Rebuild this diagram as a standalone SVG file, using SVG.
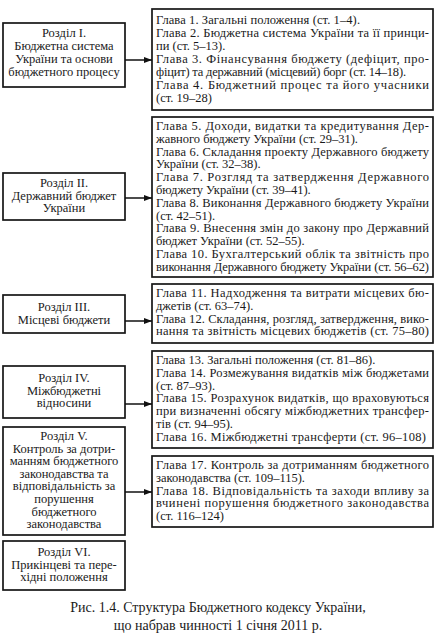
<svg xmlns="http://www.w3.org/2000/svg" width="437" height="638" viewBox="0 0 437 638">
<defs>
<marker id="ah" markerUnits="userSpaceOnUse" markerWidth="9" markerHeight="7" refX="8" refY="3.5" orient="auto">
<path d="M0,0.5 L8,3.5 L0,6.5 Z" fill="#111"/>
</marker>
</defs>
<style>
.box{fill:#fff;stroke:#161616;stroke-width:1.7}
.t{font-family:"Liberation Serif","Times New Roman",serif;font-size:12.5px;fill:#1a1a1a}
.l{font-family:"Liberation Serif","Times New Roman",serif;font-size:12.5px;fill:#1a1a1a;text-anchor:middle}
.cap{font-family:"Liberation Serif","Times New Roman",serif;font-size:14px;fill:#1a1a1a;text-anchor:middle}
.ar{stroke:#111;stroke-width:1.5;fill:none}
</style>
<rect x="0" y="0" width="437" height="638" fill="#fff"/>

<g id="s1">
<rect class="box" x="3" y="23" width="122" height="64"/>
<text class="l" x="64" y="36.5">Розділ I.</text>
<text class="l" x="64" y="49.5">Бюджетна система</text>
<text class="l" x="64" y="62.5">України та основи</text>
<text class="l" x="64" y="75.5">бюджетного процесу</text>
</g>
<g id="c1">
<rect class="box" x="152" y="9" width="281" height="101"/>
<text class="t" x="156" y="24" textLength="204" lengthAdjust="spacing">Глава 1. Загальні положення (ст. 1–4).</text>
<text class="t" x="156" y="37" textLength="273" lengthAdjust="spacing">Глава 2. Бюджетна система України та її принци-</text>
<text class="t" x="156" y="50">пи (ст. 5–13).</text>
<text class="t" x="156" y="63" textLength="273" lengthAdjust="spacing">Глава 3. Фінансування бюджету (дефіцит, про-</text>
<text class="t" x="156" y="76" textLength="250" lengthAdjust="spacing">фіцит) та державний (місцевий) борг (ст. 14–18).</text>
<text class="t" x="156" y="89" textLength="273" lengthAdjust="spacing">Глава 4. Бюджетний процес та його учасники</text>
<text class="t" x="156" y="102">(ст. 19–28)</text>
</g>

<g id="s2">
<rect class="box" x="3" y="173" width="122" height="47"/>
<text class="l" x="64" y="187">Розділ II.</text>
<text class="l" x="64" y="199.5">Державний бюджет</text>
<text class="l" x="64" y="212">України</text>
</g>
<g id="c2">
<rect class="box" x="152" y="117" width="281" height="160"/>
<text class="t" x="156" y="130" textLength="273" lengthAdjust="spacing">Глава 5. Доходи, видатки та кредитування Дер-</text>
<text class="t" x="156" y="142.8">жавного бюджету України (ст. 29–31).</text>
<text class="t" x="156" y="155.6" textLength="273" lengthAdjust="spacing">Глава 6. Складання проекту Державного бюджету</text>
<text class="t" x="156" y="168.4">України (ст. 32–38).</text>
<text class="t" x="156" y="181.2" textLength="273" lengthAdjust="spacing">Глава 7. Розгляд та затвердження Державного</text>
<text class="t" x="156" y="194">бюджету України (ст. 39–41).</text>
<text class="t" x="156" y="206.8" textLength="273" lengthAdjust="spacing">Глава 8. Виконання Державного бюджету України</text>
<text class="t" x="156" y="219.6">(ст. 42–51).</text>
<text class="t" x="156" y="232.4" textLength="273" lengthAdjust="spacing">Глава 9. Внесення змін до закону про Державний</text>
<text class="t" x="156" y="245.2">бюджет України (ст. 52–55).</text>
<text class="t" x="156" y="258" textLength="273" lengthAdjust="spacing">Глава 10. Бухгалтерський облік та звітність про</text>
<text class="t" x="156" y="270.8" textLength="273" lengthAdjust="spacing">виконання Державного бюджету України (ст. 56–62)</text>
</g>

<g id="s3">
<rect class="box" x="3" y="295" width="122" height="38"/>
<text class="l" x="64" y="311">Розділ III.</text>
<text class="l" x="64" y="324">Місцеві бюджети</text>
</g>
<g id="c3">
<rect class="box" x="152" y="284" width="281" height="59"/>
<text class="t" x="156" y="297" textLength="273" lengthAdjust="spacing">Глава 11. Надходження та витрати місцевих бю-</text>
<text class="t" x="156" y="309.8">джетів (ст. 63–74).</text>
<text class="t" x="156" y="322.6" textLength="273" lengthAdjust="spacing">Глава 12. Складання, розгляд, затвердження, вико-</text>
<text class="t" x="156" y="335.4" textLength="273" lengthAdjust="spacing">нання та звітність місцевих бюджетів (ст. 75–80)</text>
</g>

<g id="s4">
<rect class="box" x="3" y="366" width="122" height="52"/>
<text class="l" x="64" y="382">Розділ IV.</text>
<text class="l" x="64" y="394.5">Міжбюджетні</text>
<text class="l" x="64" y="407">відносини</text>
</g>
<g id="c4">
<rect class="box" x="152" y="351" width="281" height="97"/>
<text class="t" x="156" y="364">Глава 13. Загальні положення (ст. 81–86).</text>
<text class="t" x="156" y="376.8" textLength="273" lengthAdjust="spacing">Глава 14. Розмежування видатків між бюджетами</text>
<text class="t" x="156" y="389.6">(ст. 87–93).</text>
<text class="t" x="156" y="402.4" textLength="273" lengthAdjust="spacing">Глава 15. Розрахунок видатків, що враховуються</text>
<text class="t" x="156" y="415.2" textLength="273" lengthAdjust="spacing">при визначенні обсягу міжбюджетних трансфер-</text>
<text class="t" x="156" y="428">тів (ст. 94–95).</text>
<text class="t" x="156" y="440.8" textLength="270" lengthAdjust="spacing">Глава 16. Міжбюджетні трансферти (ст. 96–108)</text>
</g>

<g id="s5">
<rect class="box" x="3" y="427" width="122" height="108"/>
<text class="l" x="64" y="440">Розділ V.</text>
<text class="l" x="64" y="452.6">Контроль за дотри-</text>
<text class="l" x="64" y="465.2">манням бюджетного</text>
<text class="l" x="64" y="477.8">законодавства та</text>
<text class="l" x="64" y="490.4">відповідальність за</text>
<text class="l" x="64" y="503">порушення</text>
<text class="l" x="64" y="515.6">бюджетного</text>
<text class="l" x="64" y="528.2">законодавства</text>
</g>
<g id="c5">
<rect class="box" x="152" y="456" width="281" height="71"/>
<text class="t" x="156" y="469" textLength="273" lengthAdjust="spacing">Глава 17. Контроль за дотриманням бюджетного</text>
<text class="t" x="156" y="481.8">законодавства (ст. 109–115).</text>
<text class="t" x="156" y="494.6" textLength="273" lengthAdjust="spacing">Глава 18. Відповідальність та заходи впливу за</text>
<text class="t" x="156" y="507.4" textLength="273" lengthAdjust="spacing">вчинені порушення бюджетного законодавства</text>
<text class="t" x="156" y="520.2">(ст. 116–124)</text>
</g>

<g id="s6">
<rect class="box" x="3" y="541" width="122" height="49"/>
<text class="l" x="64" y="556">Розділ VI.</text>
<text class="l" x="64" y="568.5">Прикінцеві та пере-</text>
<text class="l" x="64" y="581">хідні положення</text>
</g>

<g id="connectors">
<line class="ar" x1="125" y1="60" x2="152" y2="60" marker-end="url(#ah)"/>
<line class="ar" x1="125" y1="198" x2="152" y2="198" marker-end="url(#ah)"/>
<line class="ar" x1="125" y1="321" x2="152" y2="321" marker-end="url(#ah)"/>
<line class="ar" x1="125" y1="404" x2="152" y2="404" marker-end="url(#ah)"/>
<line class="ar" x1="125" y1="492" x2="152" y2="492" stroke-width="1" marker-end="url(#ah)"/>
</g>

<g id="caption">
<text class="cap" x="218" y="612">Рис. 1.4. Структура Бюджетного кодексу України,</text>
<text class="cap" x="218" y="630">що набрав чинності 1 січня 2011 р.</text>
</g>
</svg>
